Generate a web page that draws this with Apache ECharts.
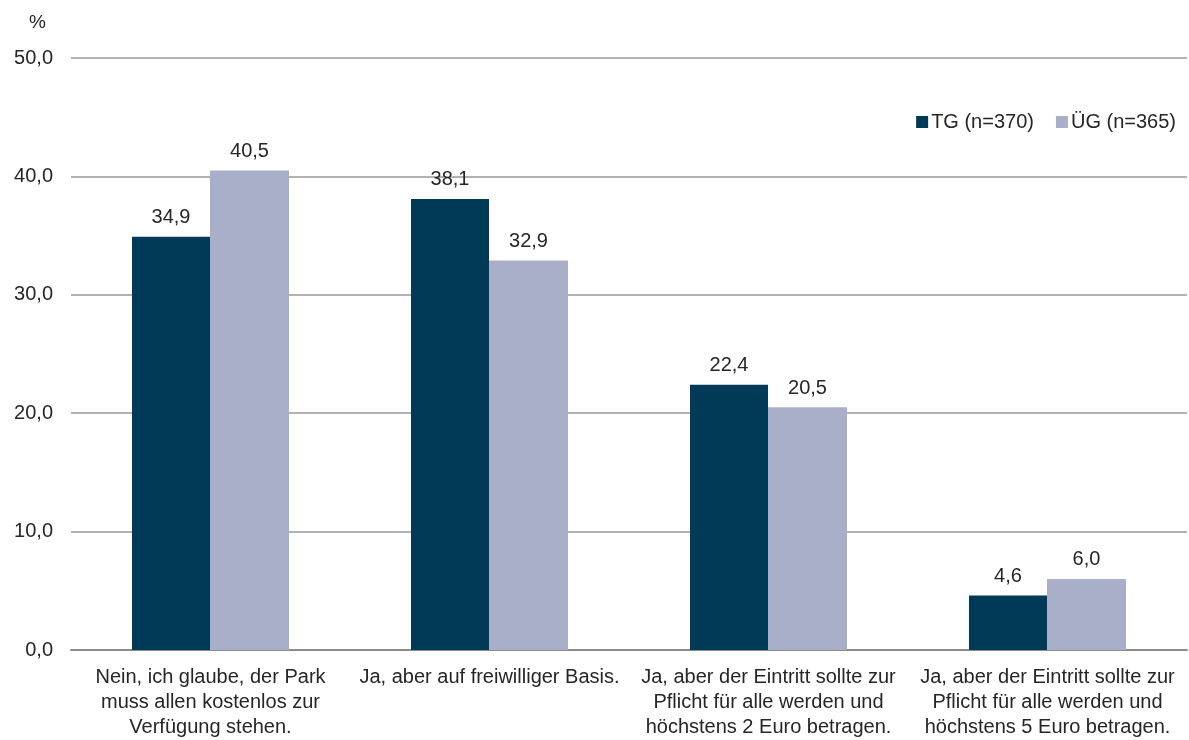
<!DOCTYPE html>
<html>
<head>
<meta charset="utf-8">
<script src="https://cdn.jsdelivr.net/npm/echarts@6/dist/echarts.min.js"></script>
<style>
  html,body{margin:0;padding:0;background:#fff;}
  #chart{width:1189px;height:740px;}
</style>
</head>
<body>
<div id="chart"></div>
<script>
// Kategorien (Antworten)
const categories = [
  'Nein, ich glaube, der Park\nmuss allen kostenlos zur\nVerfügung stehen.',
  'Ja, aber auf freiwilliger Basis.',
  'Ja, aber der Eintritt sollte zur\nPflicht für alle werden und\nhöchstens 2 Euro betragen.',
  'Ja, aber der Eintritt sollte zur\nPflicht für alle werden und\nhöchstens 5 Euro betragen.'
]
const tgValues = [34.9, 38.1, 22.4, 4.6]   // TG (n=370)
const ugValues = [40.5, 32.9, 20.5, 6.0]   // ÜG (n=365)
const seriesNames = ['TG (n=370)', 'ÜG (n=365)']
const yTicks = [0, 10, 20, 30, 40, 50]

const fmt = v => v.toFixed(1).replace('.', ',')
const font = 'Liberation Sans'
const textColor = '#262626'

const chart = echarts.init(document.getElementById('chart'))
const option = {
  animation: false,
  textStyle: { fontFamily: font },
  title: {
    text: '%', left: 24, top: 8,
    textStyle: { fontFamily: font, fontSize: 19, fontWeight: 'normal', color: textColor }
  },
  legend: {
    data: seriesNames,
    right: 8, top: 107,
    itemWidth: 12, itemHeight: 12, itemGap: 22,
    icon: 'rect',
    textStyle: { fontFamily: font, fontSize: 20, color: textColor, padding: [0, 0, 0, -2] }
  },
  grid: { left: 71, right: 2, top: 58, bottom: 89 },
  xAxis: {
    type: 'category',
    data: categories,
    axisTick: { show: false },
    axisLine: { lineStyle: { color: '#8c8c8c', width: 2 } },
    axisLabel: {
      interval: 0, margin: 15, color: textColor,
      fontFamily: font, fontSize: 20, lineHeight: 25, align: 'center'
    }
  },
  yAxis: {
    type: 'value',
    min: yTicks[0], max: yTicks[yTicks.length - 1], interval: 10,
    axisLine: { show: false },
    axisTick: { show: false },
    splitLine: { lineStyle: { color: '#999', width: 1.5 } },
    axisLabel: { formatter: fmt, margin: 18, color: textColor, fontFamily: font, fontSize: 20 }
  },
  series: [
    {
      name: seriesNames[0], type: 'bar', data: tgValues,
      barWidth: 78, barGap: '0%',
      itemStyle: { color: '#003a57' },
      label: { show: true, position: 'top', distance: 9, formatter: p => fmt(p.value), color: textColor, fontFamily: font, fontSize: 20 }
    },
    {
      name: seriesNames[1], type: 'bar', data: ugValues,
      barWidth: 79,
      itemStyle: { color: '#a9afc8' },
      label: { show: true, position: 'top', distance: 9, formatter: p => fmt(p.value), color: textColor, fontFamily: font, fontSize: 20 }
    }
  ]
}
chart.setOption(option)
</script>
</body>
</html>
